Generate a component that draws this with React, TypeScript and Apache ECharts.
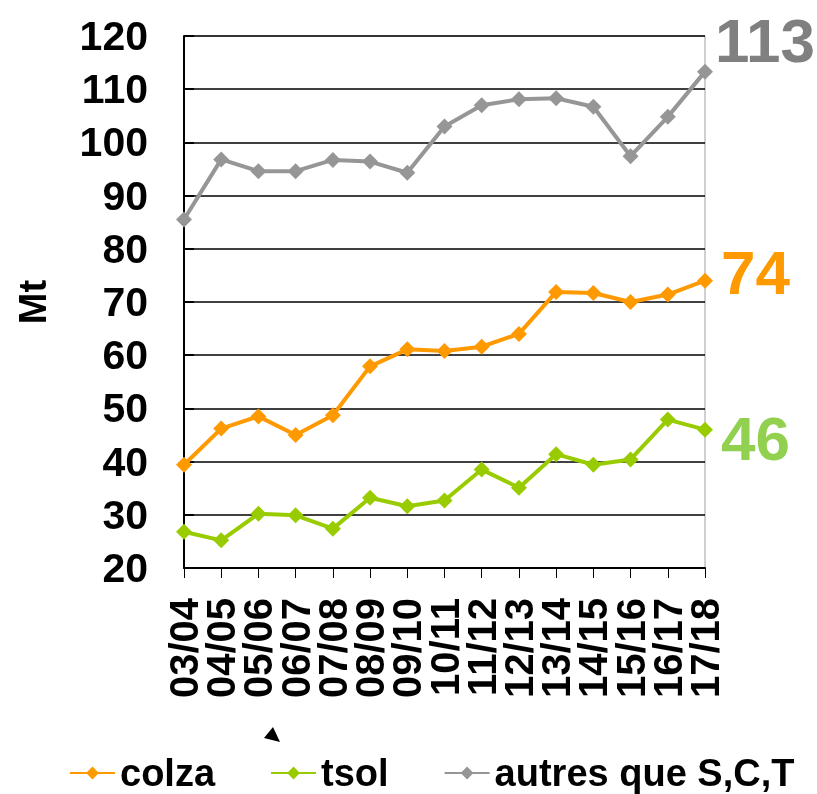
import React, { useEffect, useRef } from "react";
import * as echarts from "echarts";

const categories = ["03/04", "04/05", "05/06", "06/07", "07/08", "08/09", "09/10", "10/11", "11/12", "12/13", "13/14", "14/15", "15/16", "16/17", "17/18"];
const colza = [39.4, 46.2, 48.5, 45.0, 48.7, 57.9, 61.1, 60.8, 61.6, 64.0, 71.9, 71.7, 70.0, 71.4, 74.0];
const tsol = [26.8, 25.2, 30.2, 29.9, 27.4, 33.2, 31.6, 32.7, 38.5, 35.1, 41.4, 39.4, 40.4, 47.9, 46.0];
const autres = [85.5, 96.8, 94.6, 94.6, 96.7, 96.4, 94.3, 103.0, 107.0, 108.1, 108.3, 106.7, 97.4, 104.8, 113.3];
const yTicks = { min: 20, max: 120, interval: 10 };

const FONT = "'Liberation Sans', Arial, sans-serif";

export default function App() {
  const ref = useRef<HTMLDivElement>(null);
  useEffect(() => {
    if (!ref.current) return;
    const chart = echarts.init(ref.current, undefined, { renderer: "svg" });
    const mkSeries = (name: string, data: number[], color: string, labelColor: string, dy: number, dist: number) => ({
      name,
      type: "line",
      data,
      symbol: "diamond",
      symbolSize: 16,
      lineStyle: { color, width: 4 },
      itemStyle: { color },
      endLabel: {
        show: true,
        formatter: (p: any) => String(Math.round(p.value)),
        color: labelColor,
        fontSize: 62,
        fontWeight: "bold",
        fontFamily: FONT,
        distance: dist,
        offset: [0, dy],
      },
    });
    chart.setOption({
      animation: false,
      textStyle: { fontFamily: FONT },
      grid: {
        left: 184,
        right: 112,
        top: 36,
        bottom: 226,
        show: true,
        borderColor: "#a0a0a0",
        borderWidth: 1,
      },
      legend: {
        left: 69,
        top: 754,
        padding: 0,
        itemWidth: 45,
        itemHeight: 16,
        itemGap: 55,
        textStyle: { fontSize: 38, lineHeight: 37, fontWeight: "bold", color: "#000", fontFamily: FONT },
        data: ["colza", "tsol", "autres que S,C,T"],
      },
      xAxis: {
        type: "category",
        data: categories,
        boundaryGap: false,
        axisLine: { lineStyle: { color: "#000", width: 2 } },
        axisTick: { show: true, alignWithLabel: true, length: 10, lineStyle: { color: "#000", width: 1 } },
        axisLabel: {
          rotate: 90,
          interval: 0,
          margin: 30,
          fontSize: 40,
          fontWeight: "bold",
          color: "#000",
          fontFamily: FONT,
        },
      },
      yAxis: {
        type: "value",
        min: yTicks.min,
        max: yTicks.max,
        interval: yTicks.interval,
        name: "Mt",
        nameLocation: "middle",
        nameRotate: 90,
        nameGap: 132,
        nameTextStyle: { fontSize: 38, fontWeight: "bold", color: "#000", fontFamily: FONT },
        axisLine: { show: true, lineStyle: { color: "#000", width: 2 } },
        axisTick: { show: true, inside: true, length: 10, lineStyle: { color: "#000", width: 2 } },
        splitLine: { show: true, lineStyle: { color: "#000", width: 1.5 } },
        axisLabel: {
          margin: 36,
          fontSize: 41,
          fontWeight: "bold",
          color: "#000",
          fontFamily: FONT,
        },
      },
      series: [
        mkSeries("colza", colza, "#FF9900", "#FF9900", -8, 16),
        mkSeries("tsol", tsol, "#99CC00", "#92D050", 9, 16),
        mkSeries("autres que S,C,T", autres, "#969696", "#808080", -31, 10),
      ],
      graphic: [
        {
          type: "polygon",
          shape: { points: [[273, 727], [264, 738], [280, 742]] },
          style: { fill: "#000" },
        },
      ],
    });
    return () => chart.dispose();
  }, []);
  return <div ref={ref} style={{ position: "fixed", left: 0, top: 0, width: 817, height: 794 }} />;
}
